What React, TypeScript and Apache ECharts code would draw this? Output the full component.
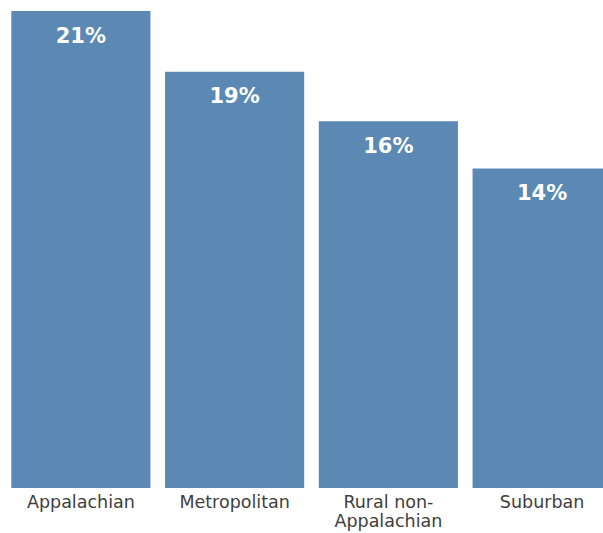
import React, { useEffect, useRef } from "react";
import * as echarts from "echarts";

const categories = ["Appalachian", "Metropolitan", "Rural non-\nAppalachian", "Suburban"];
const values = [21.2, 18.5, 16.3, 14.2];

export default function App() {
  const ref = useRef<HTMLDivElement>(null);
  useEffect(() => {
    document.body.style.margin = "0";
    const chart = echarts.init(ref.current!, null, { renderer: "svg" });
    chart.setOption({
      animation: false,
      grid: { left: 4, top: 11, bottom: 45, right: -16, containLabel: false, outerBoundsMode: "none" },
      xAxis: {
        type: "category",
        data: categories,
        axisLine: { show: false },
        axisTick: { show: false },
        axisLabel: {
          color: "#404040",
          fontSize: 17.5,
          fontFamily: "DejaVu Sans",
          margin: 4,
          lineHeight: 19,
          interval: 0,
        },
      },
      yAxis: { type: "value", min: 0, max: 21.2, show: false, splitLine: { show: false } },
      series: [
        {
          type: "bar",
          data: values,
          barCategoryGap: "9.5%",
          itemStyle: { color: "#5B89B3" },
          label: {
            show: true,
            position: "insideTop",
            distance: 14,
            color: "#ffffff",
            fontWeight: "bold",
            fontSize: 21,
            fontFamily: "DejaVu Sans",
            formatter: (p: any) => Math.round(p.value) + "%",
          },
        },
      ],
    });
    return () => chart.dispose();
  }, []);
  return <div ref={ref} style={{ width: 603, height: 533 }} />;
}
